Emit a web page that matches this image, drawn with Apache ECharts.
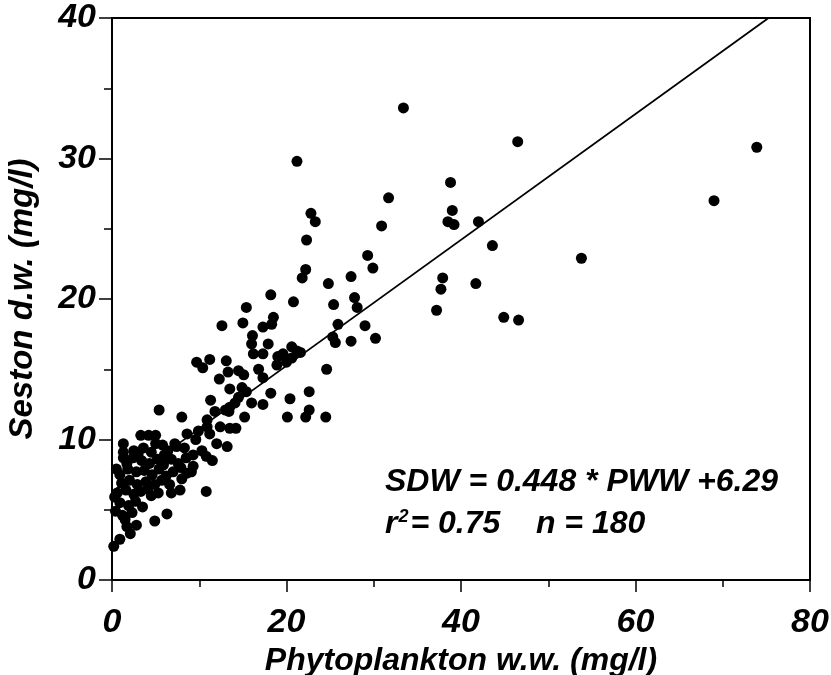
<!DOCTYPE html>
<html>
<head>
<meta charset="utf-8">
<script src="https://cdn.jsdelivr.net/npm/echarts@6/dist/echarts.min.js"></script>
<style>
html,body{margin:0;padding:0;background:#fff;}
#chart{width:831px;height:675px;}
</style>
</head>
<body>
<div id="chart"></div>
<script>
// Phytoplankton w.w. (mg/l) vs Seston d.w. (mg/l)
const pwwValues = [
 33.4,46.5,73.9,21.2,38.8,69.0,31.7,39.0,22.8,23.3,38.5,39.2,42.0,30.9,22.3,43.6,53.8,29.3,29.9,22.2,
 21.8,27.4,24.8,37.9,37.7,41.7,27.8,28.1,25.4,37.2,44.9,46.6,25.9,29.0,25.3,27.4,30.2,25.6,18.2,20.8,
 15.4,18.5,18.3,15.0,17.3,12.6,16.1,16.0,17.9,16.2,17.3,19.6,20.6,21.2,20.6,20.0,18.9,24.6,9.7,10.4,
 11.2,13.1,13.3,14.5,21.6,22.6,22.6,22.2,24.5,11.8,13.4,15.2,10.9,10.9,11.2,13.5,14.2,20.1,12.0,13.2,
 10.8,11.5,10.8,15.1,12.3,17.3,13.5,14.9,15.4,18.2,14.5,14.1,16.0,17.3,20.4,11.3,13.0,13.5,5.4,8.0,
 3.3,4.2,5.0,1.3,8.6,7.2,1.3,1.3,9.3,9.3,9.1,8.0,4.5,6.8,7.8,6.3,4.9,2.1,0.9,0.2,
 1.5,1.7,2.5,3.6,4.5,5.8,6.4,7.4,8.3,2.4,3.4,4.3,5.2,5.9,6.8,7.6,8.5,0.9,1.8,2.8,
 3.7,4.6,5.4,6.2,7.0,7.9,8.6,1.1,2.0,2.9,3.9,4.9,5.7,6.6,0.6,1.6,2.5,3.3,4.1,5.3,
 0.9,1.9,2.7,3.5,0.4,1.2,2.3,1.7,0.5,3.0,5.0,6.0,10.3,9.6,12.4,9.9,2.8,0.3,19.0,16.8
];
const sdwValues = [
 33.6,31.2,30.8,29.8,28.3,27.0,27.2,26.3,26.1,25.5,25.5,25.3,25.5,25.2,24.2,23.8,22.9,23.1,22.2,22.1,
 21.5,21.6,21.1,21.5,20.7,21.1,20.1,19.4,19.6,19.2,18.7,18.5,18.2,18.1,17.3,17.0,17.2,16.9,20.3,19.8,
 19.4,18.7,18.2,18.3,18.0,18.1,17.4,16.8,16.8,16.1,16.1,16.1,16.6,16.3,15.8,15.5,15.3,15.0,15.5,15.1,
 15.7,15.6,14.8,14.9,16.2,13.4,12.1,11.6,11.6,12.0,12.0,11.6,11.4,10.9,10.4,10.8,10.8,11.6,9.7,9.5,
 8.8,8.5,6.3,14.6,14.3,14.4,13.6,13.7,13.4,13.3,13.0,12.6,12.6,12.5,12.9,12.8,12.1,12.3,12.1,11.6,
 10.3,10.3,10.3,9.7,10.4,9.7,9.1,8.7,8.9,8.1,7.7,7.2,6.0,6.2,6.4,4.7,4.2,3.3,2.9,2.4,
 4.3,3.8,9.2,9.4,9.1,9.6,9.2,9.5,9.4,8.7,8.5,8.3,8.6,8.2,8.6,8.3,8.7,7.5,7.9,7.7,
 7.8,7.5,7.9,7.4,7.7,8.0,7.6,6.9,7.1,6.8,7.0,6.8,7.1,6.8,6.2,6.4,6.1,6.3,6.5,6.2,
 5.5,5.3,5.6,5.2,4.9,4.6,4.8,8.3,7.9,9.0,9.7,8.9,9.2,10.0,10.9,10.6,3.9,5.9,15.9,15.0
];
const xTicks = [0, 20, 40, 60, 80];
const yTicks = [0, 10, 20, 30, 40];
const slope = 0.448;
const intercept = 6.29;
const eqLine1 = 'SDW = 0.448 * PWW +6.29';
const rSquared = '0.75';
const nCount = '180';

const points = pwwValues.map((x, i) => [x, sdwValues[i]]);
const yMax = yTicks[yTicks.length - 1];
const lineEndX = (yMax - intercept) / slope;
const fitLine = [[0, intercept], [lineEndX, yMax]];

const FONT = "'Liberation Sans',Arial,sans-serif";
const chart = echarts.init(document.getElementById('chart'), null, {renderer: 'canvas'});
chart.setOption({
  animation: false,
  backgroundColor: '#fff',
  grid: {left: 112, right: 21, top: 18, bottom: 95, containLabel: false, outerBoundsMode: 'none',
    show: true, borderColor: '#000', borderWidth: 2, backgroundColor: 'transparent'},
  xAxis: {
    type: 'value', min: xTicks[0], max: xTicks[xTicks.length - 1], interval: 20,
    name: 'Phytoplankton w.w. (mg/l)', nameLocation: 'middle', nameGap: 64,
    nameTextStyle: {fontFamily: FONT, fontWeight: 'bold', fontStyle: 'italic', fontSize: 32, color: '#000'},
    axisLine: {show: true, onZero: false, lineStyle: {color: '#000', width: 2}},
    axisTick: {show: true, inside: false, length: 12, lineStyle: {color: '#000', width: 1.5}},
    minorTick: {show: true, splitNumber: 2, length: 7, lineStyle: {color: '#000', width: 1.5}},
    splitLine: {show: false},
    axisLabel: {margin: 26, fontFamily: FONT, fontWeight: 'bold', fontStyle: 'italic', fontSize: 34, color: '#000'}
  },
  yAxis: {
    type: 'value', min: yTicks[0], max: yMax, interval: 10,
    name: 'Seston d.w. (mg/l)', nameLocation: 'middle', nameGap: 73, nameRotate: 90,
    nameTextStyle: {fontFamily: FONT, fontWeight: 'bold', fontStyle: 'italic', fontSize: 33, color: '#000'},
    axisLine: {show: true, onZero: false, lineStyle: {color: '#000', width: 2}},
    axisTick: {show: true, inside: false, length: 13, lineStyle: {color: '#000', width: 1.5}},
    minorTick: {show: true, splitNumber: 2, length: 8, lineStyle: {color: '#000', width: 1.5}},
    splitLine: {show: false},
    axisLabel: {margin: 16, fontFamily: FONT, fontWeight: 'bold', fontStyle: 'italic', fontSize: 34, color: '#000'}
  },
  series: [
    {
      type: 'scatter', data: points, symbol: 'circle', symbolSize: 11,
      itemStyle: {color: '#000', opacity: 1}, z: 3
    },
    {
      type: 'line', data: fitLine, symbol: 'none', lineStyle: {color: '#000', width: 1.8}, z: 4
    }
  ],
  graphic: [
    {type: 'text', left: 385, top: 466, style: {text: eqLine1, font: "italic bold 32px " + FONT, fill: '#000'}},
    {type: 'text', left: 385, top: 508, style: {
      text: '{r|r}{s|2}{r|= ' + rSquared + '    n = ' + nCount + '}',
      rich: {
        r: {fontFamily: FONT, fontWeight: 'bold', fontStyle: 'italic', fontSize: 32, fill: '#000', color: '#000', verticalAlign: 'bottom'},
        s: {fontFamily: FONT, fontWeight: 'bold', fontStyle: 'italic', fontSize: 18, fill: '#000', color: '#000', verticalAlign: 'top', padding: [0, 2, 14, 1]}
      }
    }}
  ]
});
</script>
</body>
</html>
